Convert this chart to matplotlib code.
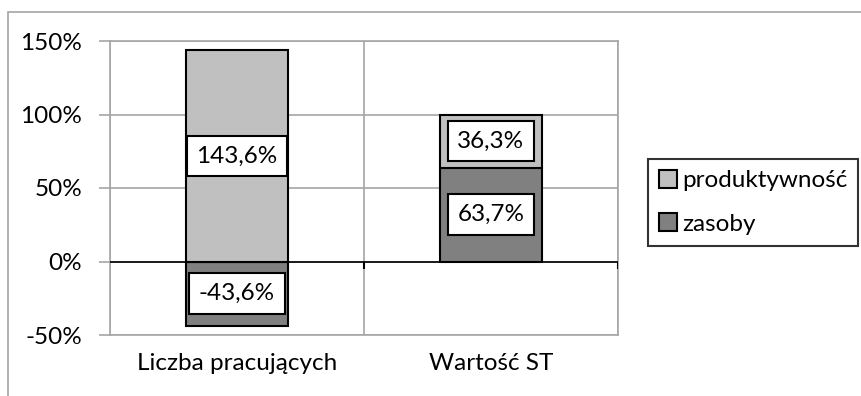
import numpy as np
import matplotlib
matplotlib.use('Agg')
import matplotlib.pyplot as plt
from matplotlib.patches import Rectangle, Patch

plt.rcParams['font.family'] = ['Lato', 'DejaVu Sans']

categories = ['Liczba pracujących', 'Wartość ST']
zasoby = [-43.6, 63.7]
produktywnosc = [143.6, 36.3]
yticks = [-50, 0, 50, 100, 150]

c_light = '#c0c0c0'
c_dark = '#808080'
c_grid = '#a6a6a6'
fs = 17.5

fig = plt.figure(figsize=(8.62, 3.96), dpi=100)
ax = fig.add_axes([110 / 862, 61 / 396, 508 / 862, 294 / 396])

x = np.arange(len(categories))
zas = np.array(zasoby)
prod = np.array(produktywnosc)
# produktywność sits on top of the positive part of zasoby
base = np.where(zas > 0, zas, 0)

w = 0.40
ax.bar(x, zas, w, color=c_dark, edgecolor='black', linewidth=1.5, zorder=3)
ax.bar(x, prod, w, bottom=base, color=c_light, edgecolor='black', linewidth=1.5, zorder=3)

box = dict(boxstyle='square,pad=0.4', facecolor='white', edgecolor='black', linewidth=1.5)
for xi, z, p, b in zip(x, zas, prod, base):
    ax.text(xi, z / 2, f'{z:.1f}%'.replace('.', ','), ha='center', va='center',
            fontsize=fs, bbox=box, zorder=5)
    ax.text(xi, b + p / 2, f'{p:.1f}%'.replace('.', ','), ha='center', va='center',
            fontsize=fs, bbox=box, zorder=5)

ax.set_xlim(-0.5, len(categories) - 0.5)
ax.set_ylim(-50, 150)
ax.set_yticks(yticks)
ax.set_yticklabels([f'{t}%' for t in yticks], fontsize=fs)
ax.tick_params(axis='y', length=8, color=c_grid, width=1.2, pad=12)
ax.set_xticks(x)
ax.set_xticklabels(categories, fontsize=fs)
ax.tick_params(axis='x', length=0, pad=13)

ax.grid(axis='y', color=c_grid, linewidth=1.2, zorder=0)
for xb in np.arange(len(categories) + 1) - 0.5:
    ax.axvline(xb, color=c_grid, linewidth=1.2, zorder=0)
for s in ax.spines.values():
    s.set_color(c_grid)
    s.set_linewidth(1.2)

# category axis at zero with boundary tick marks
ax.axhline(0, color='black', linewidth=1.2, zorder=4)
ax.vlines(np.arange(1, len(categories) + 1) - 0.5, -4.8, 0, color='black', linewidth=1.5, zorder=4)

handles = [Patch(facecolor=c_light, edgecolor='black', linewidth=1.5, label='produktywność'),
           Patch(facecolor=c_dark, edgecolor='black', linewidth=1.5, label='zasoby')]
leg = fig.legend(handles=handles, loc='upper left', bbox_to_anchor=(648 / 862, 1 - 159 / 396),
                 fontsize=fs, frameon=True, fancybox=False, edgecolor='black',
                 handlelength=0.75, handleheight=0.75, handletextpad=0.2,
                 labelspacing=0.9, borderpad=0.45, borderaxespad=0)
leg.get_frame().set_linewidth(1.5)

# chart area border
fig.patches.append(Rectangle((8.5 / 862, -0.1), 1.2, 1 - 11.5 / 396 + 0.1,
                             transform=fig.transFigure, fill=False,
                             edgecolor=c_grid, linewidth=1.2))

fig.savefig('out.png', dpi=100)
